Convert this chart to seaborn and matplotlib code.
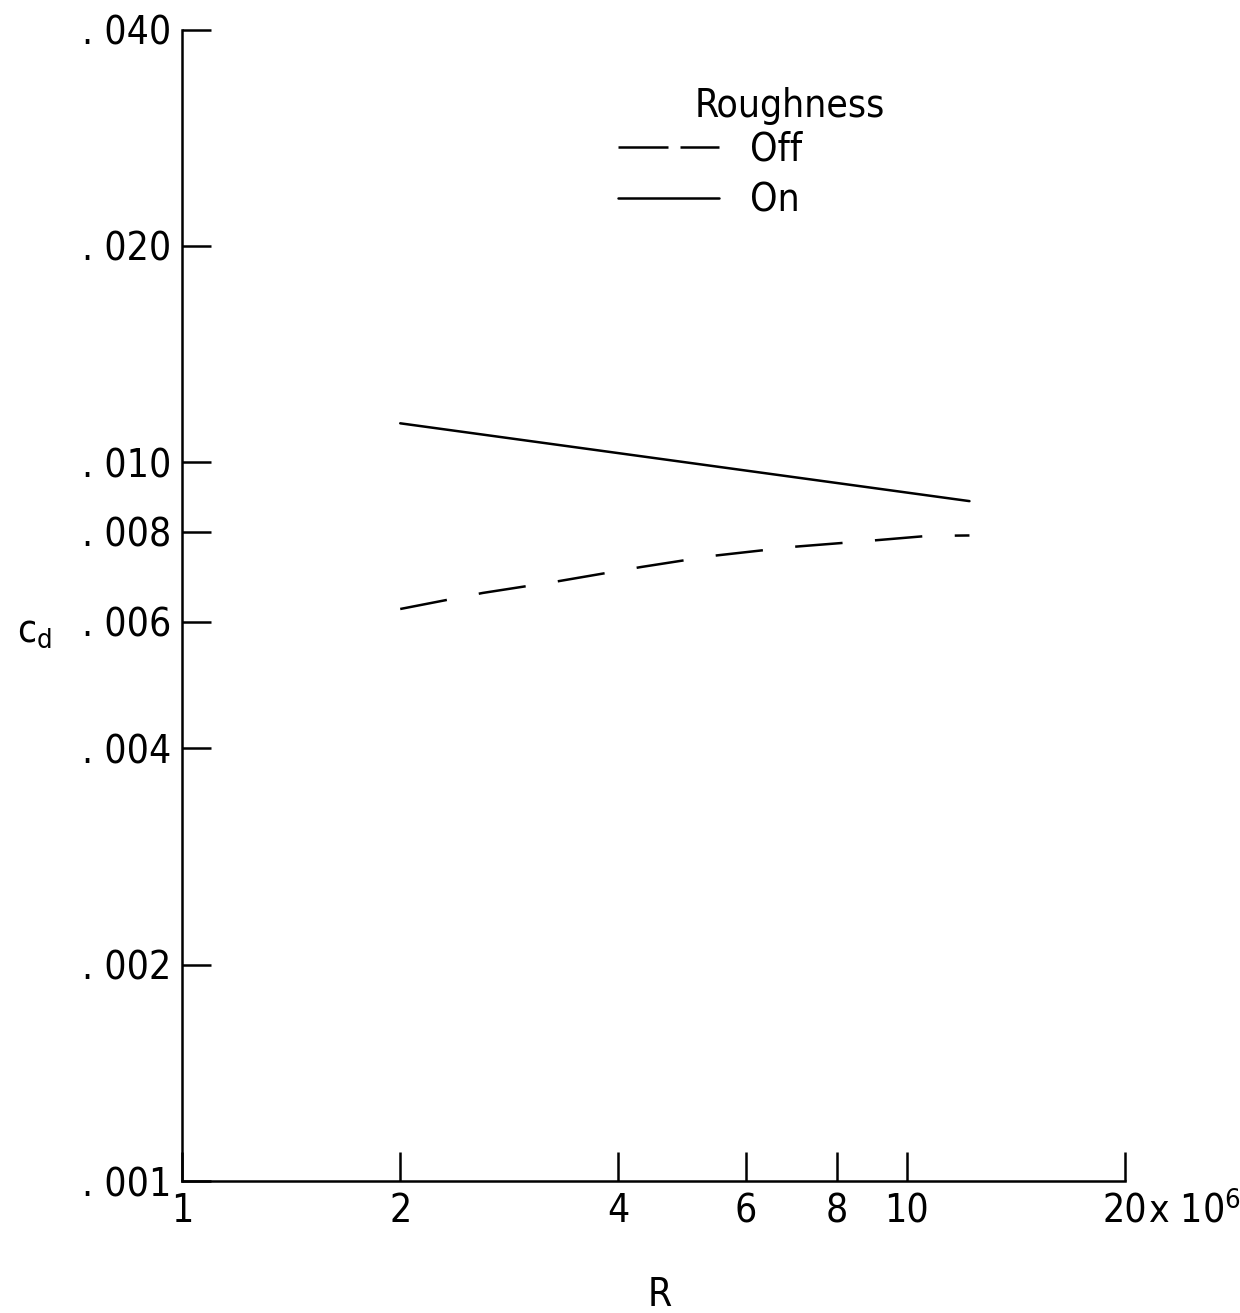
import matplotlib
matplotlib.use("Agg")
import matplotlib.pyplot as plt
from matplotlib.lines import Line2D
import seaborn as sns
import pandas as pd

# Reynolds number (x 10^6) and section drag coefficient
r_off = [2.0, 2.6, 3.3, 4.3, 5.4, 7.0, 8.8, 10.7, 12.2]
cd_off = [0.00625, 0.00658, 0.00683, 0.00715, 0.00741, 0.00763, 0.00777, 0.00790, 0.00791]
r_on = [2.0, 12.2]
cd_on = [0.01133, 0.00883]

x_ticks = [1, 2, 4, 6, 8, 10, 20]
x_labels = ["1", "2", "4", "6", "8", "10", "20"]
y_ticks = [0.001, 0.002, 0.004, 0.006, 0.008, 0.010, 0.020, 0.040]
y_labels = [". 001", ". 002", ". 004", ". 006", ". 008", ". 010", ". 020", ". 040"]

df_off = pd.DataFrame({"R": r_off, "cd": cd_off})
df_on = pd.DataFrame({"R": r_on, "cd": cd_on})

sns.set_style("ticks")
plt.rcParams["font.family"] = ["Liberation Sans Narrow", "DejaVu Sans Condensed", "DejaVu Sans"]
plt.rcParams["font.stretch"] = "condensed"
plt.rcParams["mathtext.default"] = "regular"
plt.rcParams["text.color"] = "black"

fs = 28

fig = plt.figure(figsize=(12.4, 13.13), dpi=100)
ax = fig.add_axes([0.1468, 0.1005, 0.7605, 0.877])

lw = 1.8
sns.lineplot(data=df_off, x="R", y="cd", color="black", linewidth=lw,
             linestyle=(0, (19, 13)), ax=ax, legend=False)
sns.lineplot(data=df_on, x="R", y="cd", color="black", linewidth=lw,
             ax=ax, legend=False)

ax.set_xscale("log")
ax.set_yscale("log")
ax.set_xlim(1, 20)
ax.set_ylim(0.001, 0.040)
ax.minorticks_off()
ax.set_xticks(x_ticks)
ax.set_xticklabels(x_labels)
ax.set_yticks(y_ticks)
ax.set_yticklabels(y_labels)
ax.tick_params(direction="in", length=21, width=lw, labelsize=fs,
               color="black", labelcolor="black")
ax.tick_params(axis="x", pad=8)
ax.tick_params(axis="y", pad=8)

sns.despine(ax=ax)
for s in ["left", "bottom"]:
    ax.spines[s].set_linewidth(lw)
    ax.spines[s].set_color("black")

ax.set_xlabel("")
ax.set_ylabel("")
ax.text(0.507, -0.099, "R", transform=ax.transAxes, fontsize=fs,
        ha="center", va="center")
ax.text(-0.156, 0.478, "c$_d$", transform=ax.transAxes, fontsize=fs,
        ha="center", va="center")
ax.text(1.024, -0.0356, "x 10$^6$", transform=ax.transAxes, fontsize=fs,
        ha="left", va="baseline")

# legend
ax.text(0.645, 0.934, "Roughness", transform=ax.transAxes, fontsize=fs,
        ha="center", va="center")
handles = [
    Line2D([], [], color="black", linewidth=lw, linestyle=(0, (20, 4.8))),
    Line2D([], [], color="black", linewidth=lw),
]
ax.legend(handles, ["Off", "On"], loc="upper left",
          bbox_to_anchor=(0.462, 0.912), frameon=False, fontsize=fs,
          handlelength=2.6, handletextpad=0.8, labelspacing=0.32,
          borderpad=0, borderaxespad=0)

fig.savefig("out.png", dpi=100, facecolor="white")
